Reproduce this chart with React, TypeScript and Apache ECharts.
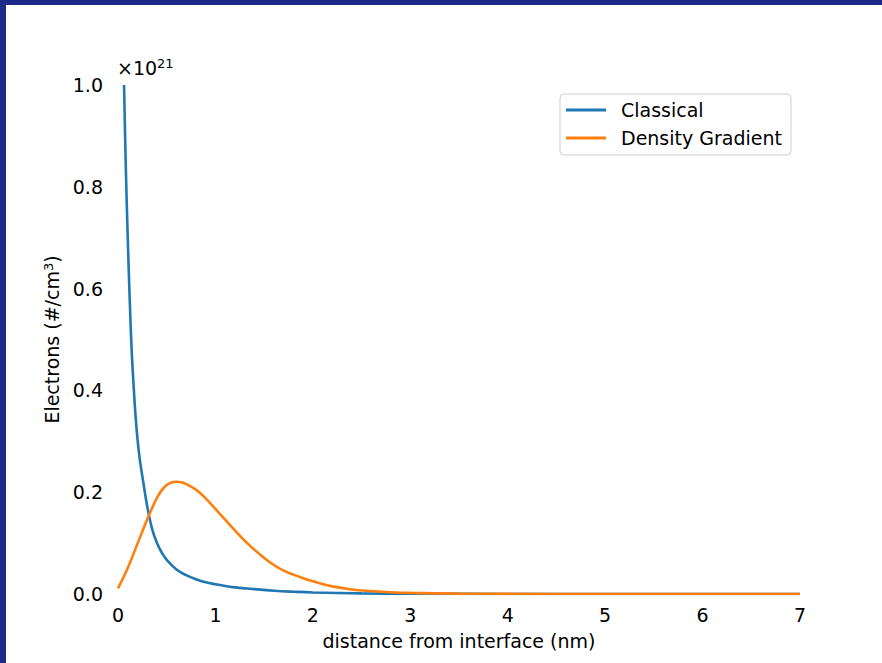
import React, { useEffect, useRef } from "react";
import * as echarts from "echarts";

// values of electrons in units of 1e21 #/cm^3
const classicalX = [0.062, 0.08, 0.1, 0.12, 0.14, 0.16, 0.18, 0.2, 0.22, 0.24, 0.26, 0.3, 0.35, 0.4, 0.45, 0.5, 0.6, 0.7, 0.8, 0.9, 1.0, 1.1, 1.2, 1.4, 1.6, 1.8, 2.0, 2.5, 3.0, 4.0, 5.0, 6.0, 7.0];
const classicalY = [1.0, 0.84, 0.7, 0.58, 0.48, 0.41, 0.35, 0.305, 0.27, 0.243, 0.219, 0.172, 0.128, 0.1, 0.081, 0.067, 0.048, 0.037, 0.029, 0.023, 0.019, 0.0157, 0.013, 0.0095, 0.0065, 0.0045, 0.003, 0.0012, 0.0005, 0.0001, 0, 0, 0];
const gradientX = [0.0, 0.1, 0.2, 0.3, 0.35, 0.4, 0.45, 0.5, 0.55, 0.6, 0.65, 0.7, 0.8, 0.9, 1.0, 1.1, 1.2, 1.3, 1.4, 1.5, 1.6, 1.7, 1.8, 1.9, 2.0, 2.2, 2.4, 2.6, 2.8, 3.0, 3.5, 4.0, 5.0, 6.0, 7.0];
const gradientY = [0.011, 0.051, 0.099, 0.147, 0.169, 0.189, 0.204, 0.214, 0.219, 0.2206, 0.2195, 0.216, 0.205, 0.188, 0.167, 0.146, 0.125, 0.105, 0.087, 0.071, 0.057, 0.046, 0.038, 0.031, 0.025, 0.015, 0.009, 0.0058, 0.0035, 0.0022, 0.0007, 0.0002, 0, 0, 0];
const seriesNames = ["Classical", "Density Gradient"];
const xTicks = [0, 1, 2, 3, 4, 5, 6, 7];
const yTicks = [0, 0.2, 0.4, 0.6, 0.8, 1.0];

const FONT = "DejaVu Sans";
const FS = 19;

export default function App() {
  const ref = useRef<HTMLDivElement>(null);
  useEffect(() => {
    if (!ref.current) return;
    const chart = echarts.init(ref.current, undefined, { renderer: "svg" });
    const zip = (xs: number[], ys: number[]) => xs.map((x, i) => [x, ys[i]]);
    chart.setOption({
      animation: false,
      backgroundColor: "#ffffff",
      textStyle: { fontFamily: FONT },
      grid: { left: 118, right: 82, top: 85, bottom: 69, containLabel: false },
      legend: {
        orient: "vertical",
        left: 560,
        top: 94,
        padding: [6, 9, 7, 6],
        itemWidth: 40,
        itemHeight: 3,
        itemGap: 8,
        icon: "rect",
        backgroundColor: "rgba(255,255,255,0.8)",
        borderColor: "#cccccc",
        borderWidth: 1,
        borderRadius: 4,
        data: seriesNames,
        textStyle: { fontFamily: FONT, fontSize: FS, color: "#000", lineHeight: 20, padding: [0, 0, 0, 10] },
      },
      xAxis: {
        type: "value",
        min: xTicks[0],
        max: xTicks[xTicks.length - 1],
        interval: 1,
        name: "distance from interface (nm)",
        nameLocation: "middle",
        nameGap: 37,
        nameTextStyle: { fontFamily: FONT, fontSize: FS, color: "#000" },
        axisLine: { show: false },
        axisTick: { show: false },
        splitLine: { show: false },
        axisLabel: { fontFamily: FONT, fontSize: FS, color: "#000", margin: 11 },
      },
      yAxis: {
        type: "value",
        min: yTicks[0],
        max: yTicks[yTicks.length - 1],
        interval: 0.2,
        name: "{a|Electrons (#/cm}{s|3}{a|)}",
        nameLocation: "middle",
        nameRotate: 90,
        nameGap: 52,
        nameTextStyle: {
          rich: {
            a: { fontFamily: FONT, fontSize: FS, color: "#000" },
            s: { fontFamily: FONT, fontSize: 13, color: "#000", padding: [0, 0, 8, 0] },
          },
        },
        axisLine: { show: false },
        axisTick: { show: false },
        splitLine: { show: false },
        axisLabel: {
          fontFamily: FONT,
          fontSize: FS,
          color: "#000",
          margin: 15,
          formatter: (v: number) => v.toFixed(1),
        },
      },
      series: [
        {
          name: seriesNames[0],
          type: "line",
          data: zip(classicalX, classicalY),
          showSymbol: false,
          symbol: "none",
          smooth: 0.4,
          lineStyle: { color: "#1f77b4", width: 2.6 },
          itemStyle: { color: "#1f77b4" },
        },
        {
          name: seriesNames[1],
          type: "line",
          data: zip(gradientX, gradientY),
          showSymbol: false,
          symbol: "none",
          smooth: 0.4,
          lineStyle: { color: "#ff7f0e", width: 2.6 },
          itemStyle: { color: "#ff7f0e" },
        },
      ],
      graphic: [
        {
          type: "text",
          left: 117,
          top: 57,
          style: {
            text: "{a|×10}{s|21}",
            rich: {
              a: { fontFamily: FONT, fontSize: FS, fill: "#000" },
              s: { fontFamily: FONT, fontSize: 13, fill: "#000", padding: [0, 0, 8, 0] },
            },
          },
        },
        { type: "rect", left: 0, top: 0, shape: { x: 0, y: 0, width: 882, height: 5 }, style: { fill: "#1c2a88" }, z: 100 },
        { type: "rect", left: 0, top: 0, shape: { x: 0, y: 0, width: 6, height: 663 }, style: { fill: "#1c2a88" }, z: 100 },
      ],
    });
    return () => chart.dispose();
  }, []);
  return (
    <div
      ref={ref}
      style={{ position: "fixed", left: 0, top: 0, width: 882, height: 663 }}
    />
  );
}
